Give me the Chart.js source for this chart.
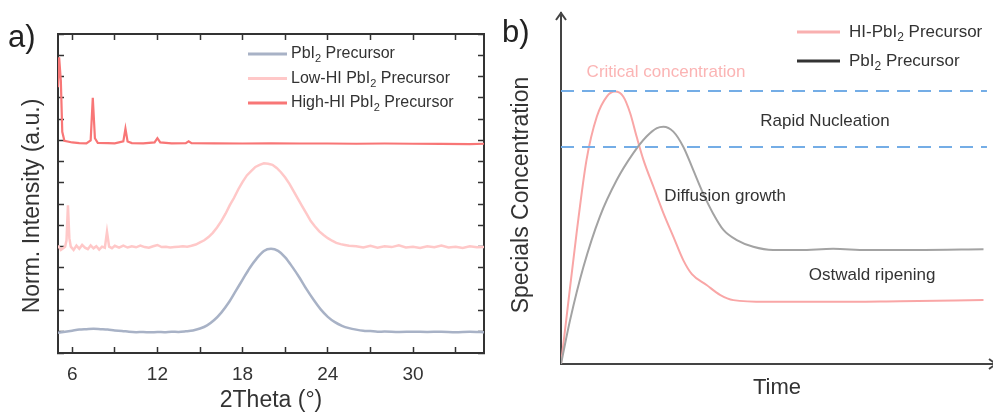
<!DOCTYPE html>
<html>
<head>
<meta charset="utf-8">
<script src="https://cdn.jsdelivr.net/npm/chart.js@4.4.0/dist/chart.umd.min.js"></script>
<style>
  body { margin: 0; background: #fff; }
  #wrap { position: relative; width: 993px; height: 414px; }
  canvas { position: absolute; top: 0; }
  #xrd { left: 0; }
  #growth { left: 500px; }
</style>
</head>
<body>
<div id="wrap">
  <canvas id="xrd" width="500" height="414"></canvas>
  <canvas id="growth" width="493" height="414"></canvas>
</div>
<script>
const FONT = "'Liberation Sans', Arial, sans-serif";

// ---- panel a: XRD patterns, [2theta, stacked norm. intensity]
const pbi2Xrd = [
  [5.0, 0.95], [5.5, 1.0], [6.0, 1.05], [6.5, 1.1], [7.0, 1.12], [7.5, 1.14], [8.0, 1.12],
  [8.5, 1.1], [9.0, 1.06], [9.5, 1.04], [10.0, 1.0], [10.5, 0.98], [11.0, 0.99], [11.5, 0.97],
  [12.0, 0.99], [12.5, 0.98], [13.0, 1.0], [13.5, 0.99], [14.0, 1.02], [14.5, 1.06], [15.0, 1.15],
  [15.5, 1.3], [16.0, 1.55], [16.5, 1.9], [17.0, 2.35], [17.5, 2.9], [18.0, 3.45], [18.5, 4.0],
  [19.0, 4.45], [19.5, 4.8], [20.0, 4.9], [20.5, 4.8], [21.0, 4.5], [21.5, 4.05], [22.0, 3.55],
  [22.5, 3.0], [23.0, 2.5], [23.5, 2.05], [24.0, 1.7], [24.5, 1.45], [25.0, 1.28], [25.5, 1.17],
  [26.0, 1.1], [26.5, 1.05], [27.0, 1.03], [27.5, 1.0], [28.0, 1.01], [29.0, 0.99], [30.0, 1.0],
  [31.0, 0.99], [32.0, 1.0], [33.0, 0.98], [34.0, 1.0], [35.0, 0.98]
];
const lowHiXrd = [
  [5.0, 5.05], [5.2, 4.85], [5.5, 5.0], [5.6, 5.3], [5.7, 6.95], [5.8, 5.4], [5.9, 5.0],
  [6.1, 4.85], [6.3, 5.05], [6.5, 4.9], [6.7, 5.08], [6.9, 4.95], [7.1, 4.88], [7.3, 5.06],
  [7.5, 4.92], [7.7, 5.02], [7.9, 4.86], [8.1, 5.0], [8.3, 4.95], [8.45, 5.7], [8.6, 5.0],
  [8.8, 4.93], [9.0, 5.04], [9.3, 4.95], [9.6, 5.05], [9.9, 4.96], [10.2, 5.02], [10.5, 4.97],
  [10.8, 5.05], [11.1, 4.98], [11.4, 4.95], [11.7, 5.02], [12.0, 5.08], [12.3, 4.98], [12.6, 5.0],
  [12.9, 4.96], [13.2, 4.98], [13.5, 5.0], [13.8, 5.02], [14.1, 5.0], [14.4, 5.04], [14.7, 5.1],
  [15.0, 5.2], [15.3, 5.3], [15.6, 5.45], [15.9, 5.65], [16.2, 5.9], [16.5, 6.2], [16.8, 6.55],
  [17.1, 6.95], [17.4, 7.3], [17.7, 7.7], [18.0, 8.05], [18.3, 8.35], [18.6, 8.55], [18.9, 8.75],
  [19.2, 8.85], [19.5, 8.92], [19.8, 8.9], [20.1, 8.85], [20.4, 8.7], [20.7, 8.5], [21.0, 8.25],
  [21.3, 7.95], [21.6, 7.6], [21.9, 7.25], [22.2, 6.9], [22.5, 6.55], [22.8, 6.2], [23.1, 5.95],
  [23.4, 5.72], [23.7, 5.55], [24.0, 5.4], [24.3, 5.28], [24.6, 5.18], [24.9, 5.12], [25.2, 5.08],
  [25.5, 5.04], [26.0, 5.02], [26.5, 4.96], [27.0, 5.04], [27.5, 4.95], [28.0, 5.02], [28.5, 4.98],
  [29.0, 5.06], [29.5, 4.96], [30.0, 5.0], [30.5, 4.94], [31.0, 5.02], [31.5, 4.97], [32.0, 5.05],
  [32.5, 4.96], [33.0, 5.0], [33.5, 4.94], [34.0, 5.02], [34.5, 4.97], [35.0, 4.98]
];
const highHiXrd = [
  [5.0, 12.5], [5.08, 13.9], [5.2, 12.8], [5.3, 10.4], [5.45, 9.98], [6.0, 9.9], [6.5, 9.87],
  [7.0, 9.86], [7.3, 10.0], [7.45, 12.0], [7.6, 10.1], [7.8, 9.88], [8.5, 9.87], [9.0, 9.86],
  [9.6, 9.95], [9.75, 10.55], [9.9, 9.95], [10.2, 9.87], [11.0, 9.86], [11.8, 9.9], [12.0, 10.1],
  [12.2, 9.9], [13.0, 9.86], [14.0, 9.87], [14.2, 9.95], [14.4, 9.87], [16.0, 9.86], [18.0, 9.85],
  [20.0, 9.86], [22.0, 9.85], [24.0, 9.85], [26.0, 9.84], [28.0, 9.85], [30.0, 9.84], [32.0, 9.83],
  [34.0, 9.82], [35.0, 9.84]
];
const xrdTicks = [6, 9, 12, 15, 18, 21, 24, 27, 30, 33];
const xrdLabels = ['PbI{2} Precursor', 'Low-HI PbI{2} Precursor', 'High-HI PbI{2} Precursor'];

// ---- panel b: schematic concentration vs time, [time, concentration]
const hiCurve = [
  [0, 0], [1.3, 13.5], [3.6, 37.2], [5.9, 58.1], [8.3, 70.5], [10.6, 76.2], [12.5, 77.6],
  [14.4, 76.2], [16.0, 71.5], [17.5, 64.8], [19.1, 58.1], [21.4, 50.5], [23.7, 43.0], [26.0, 36.3],
  [28.3, 29.6], [30.3, 25.6], [33.7, 22.5], [36.8, 19.7], [39.9, 18.2], [47.6, 17.7], [63.0, 17.7],
  [78.5, 17.9], [97.8, 18.2]
];
const pbi2Curve = [
  [0, 0], [2.1, 12.5], [5.2, 27.7], [9.0, 42.0], [12.9, 52.4], [16.7, 60.0], [19.8, 64.8],
  [22.2, 67.2], [23.7, 67.6], [26.0, 66.2], [28.3, 61.9], [30.6, 55.3], [32.9, 48.6], [35.2, 42.9],
  [37.6, 38.2], [40.7, 35.3], [44.5, 33.4], [49.1, 32.5], [55.3, 32.5], [63.0, 32.8], [70.8, 32.5],
  [82.3, 32.5], [97.8, 32.7]
];
const nucleationLevels = [77.8, 61.8];
const growthLabels = ['HI-PbI{2} Precursor', 'PbI{2} Precursor'];
const stageNotes = ['Critical concentration', 'Rapid Nucleation', 'Diffusion growth', 'Ostwald ripening'];

const toXY = arr => arr.map(p => ({ x: p[0], y: p[1] }));

// text with {sub}scripts
function drawRich(ctx, text, x, y, size, color) {
  ctx.save();
  ctx.fillStyle = color;
  ctx.textBaseline = 'middle';
  ctx.textAlign = 'left';
  text.split(/(\{\w+\})/).forEach(part => {
    if (!part) return;
    const sub = part[0] === '{';
    const t = sub ? part.slice(1, -1) : part;
    ctx.font = (sub ? Math.round(size * 0.68) : size) + 'px ' + FONT;
    ctx.fillText(t, x, sub ? y + size * 0.33 : y);
    x += ctx.measureText(t).width;
  });
  ctx.restore();
}

const richLegend = {
  id: 'richLegend',
  afterDraw(chart, args, o) {
    const ctx = chart.ctx;
    o.labels.forEach((lab, i) => {
      const y = o.y + i * o.gap;
      ctx.save();
      ctx.strokeStyle = o.colors[i];
      ctx.lineWidth = 3;
      ctx.beginPath();
      ctx.moveTo(o.x, y);
      ctx.lineTo(o.x + o.len, y);
      ctx.stroke();
      ctx.restore();
      drawRich(ctx, lab, o.x + o.len + o.pad, y, o.size, '#333');
    });
  }
};

// panel tag and rotated side title
const panelText = {
  id: 'panelText',
  afterDraw(chart, args, o) {
    const ctx = chart.ctx;
    ctx.save();
    ctx.font = '31px ' + FONT;
    ctx.fillStyle = '#222';
    ctx.textBaseline = 'middle';
    ctx.fillText(o.tag, o.tagX, o.tagY);
    ctx.translate(o.sideX, o.sideY);
    ctx.rotate(-Math.PI / 2);
    ctx.font = '23px ' + FONT;
    ctx.fillStyle = '#333';
    ctx.textAlign = 'center';
    ctx.fillText(o.side, 0, 0);
    ctx.restore();
  }
};

const stageText = {
  id: 'stageText',
  afterDatasetsDraw(chart, args, o) {
    const { ctx, scales } = chart;
    ctx.save();
    ctx.font = '17px ' + FONT;
    ctx.textAlign = 'center';
    ctx.textBaseline = 'middle';
    o.texts.forEach((t, i) => {
      ctx.fillStyle = i === 0 ? '#fbb4b4' : '#333';
      ctx.fillText(t, scales.x.getPixelForValue(o.at[i][0]), scales.y.getPixelForValue(o.at[i][1]));
    });
    ctx.restore();
  }
};

const axisArrows = {
  id: 'axisArrows',
  afterDraw(chart) {
    const { ctx, chartArea: a } = chart;
    ctx.save();
    ctx.strokeStyle = '#444';
    ctx.lineWidth = 2;
    ctx.beginPath();
    ctx.moveTo(a.left - 5, a.top + 7);
    ctx.lineTo(a.left, a.top);
    ctx.lineTo(a.left + 5, a.top + 7);
    ctx.moveTo(a.right - 4, a.bottom - 5);
    ctx.lineTo(a.right + 3, a.bottom);
    ctx.lineTo(a.right - 4, a.bottom + 5);
    ctx.stroke();
    ctx.restore();
  }
};

const tickGrid = { drawOnChartArea: false, tickLength: -6, tickColor: '#333', tickWidth: 1.5 };
const frame = { color: '#333', width: 2 };

// ---- chart a
new Chart(document.getElementById('xrd'), {
  type: 'line',
  data: {
    datasets: [
      { data: toXY(pbi2Xrd), borderColor: '#a8b2c6', borderWidth: 2.5, tension: 0.3 },
      { data: toXY(lowHiXrd), borderColor: '#ffc8c8', borderWidth: 2.5 },
      { data: toXY(highHiXrd), borderColor: '#f87676', borderWidth: 2.2 }
    ]
  },
  options: {
    responsive: false,
    animation: false,
    events: [],
    layout: { padding: { left: 58, top: 0, right: 0, bottom: 0 } },
    elements: { point: { radius: 0 }, line: { tension: 0 } },
    scales: {
      x: {
        type: 'linear', position: 'bottom', min: 5, max: 35,
        afterBuildTicks: s => { s.ticks = xrdTicks.map(v => ({ value: v })); },
        afterFit: s => { s.height = 61; },
        ticks: {
          callback: v => v % 6 === 0 ? v : '',
          font: { size: 19, family: FONT }, color: '#333', padding: 16, maxRotation: 0, autoSkip: false
        },
        grid: tickGrid,
        border: frame,
        title: { display: true, text: '2Theta (°)', font: { size: 23, family: FONT }, color: '#333', padding: 0 }
      },
      xTop: {
        type: 'linear', position: 'top', min: 5, max: 35,
        afterBuildTicks: s => { s.ticks = xrdTicks.map(v => ({ value: v })); },
        afterFit: s => { s.height = 34; },
        ticks: { display: false },
        grid: tickGrid,
        border: frame
      },
      y: {
        position: 'left', min: 0, max: 15,
        afterFit: s => { s.width = 0; },
        ticks: { display: false, stepSize: 1 },
        grid: tickGrid,
        border: frame
      },
      yRight: {
        position: 'right', min: 0, max: 15,
        afterFit: s => { s.width = 16; },
        ticks: { display: false, stepSize: 1 },
        grid: tickGrid,
        border: frame
      }
    },
    plugins: {
      legend: { display: false },
      tooltip: { enabled: false },
      richLegend: { labels: xrdLabels, colors: ['#a8b2c6', '#ffc8c8', '#f87676'], x: 248, len: 39, pad: 4, y: 54, gap: 24.5, size: 16 },
      panelText: { tag: 'a)', tagX: 8, tagY: 38, side: 'Norm. Intensity (a.u.)', sideX: 33, sideY: 206 }
    }
  },
  plugins: [richLegend, panelText]
});

// ---- chart b
const levelSets = nucleationLevels.map(v => ({
  data: [{ x: 0, y: v }, { x: 98.6, y: v }],
  borderColor: '#74ade6', borderWidth: 2, borderDash: [13, 8], tension: 0
}));

new Chart(document.getElementById('growth'), {
  type: 'line',
  data: {
    datasets: [
      ...levelSets,
      { data: toXY(pbi2Curve), borderColor: '#a3a3a3', borderWidth: 2, cubicInterpolationMode: 'monotone' },
      { data: toXY(hiCurve), borderColor: '#f9a6a6', borderWidth: 2, cubicInterpolationMode: 'monotone' }
    ]
  },
  options: {
    responsive: false,
    animation: false,
    events: [],
    layout: { padding: { left: 61, top: 13, right: 0, bottom: 0 } },
    elements: { point: { radius: 0 } },
    scales: {
      x: {
        type: 'linear', min: 0, max: 100,
        afterFit: s => { s.height = 50; },
        ticks: { display: false },
        grid: { display: false },
        border: { color: '#444', width: 2 },
        title: { display: true, text: 'Time', font: { size: 22, family: FONT }, color: '#333', padding: { top: 0, bottom: 13 } }
      },
      y: {
        min: 0, max: 100,
        afterFit: s => { s.width = 0; },
        ticks: { display: false },
        grid: { display: false },
        border: { color: '#444', width: 2 }
      }
    },
    plugins: {
      legend: { display: false },
      tooltip: { enabled: false },
      richLegend: { labels: growthLabels, colors: ['#f9b0b0', '#333'], x: 297, len: 43, pad: 9, y: 32, gap: 29, size: 17 },
      panelText: { tag: 'b)', tagX: 2, tagY: 33, side: 'Specials Concentration', sideX: 22, sideY: 195 },
      stageText: { texts: stageNotes, at: [[24.3, 83.2], [61.1, 69.2], [38.0, 47.9], [72.0, 25.4]] }
    }
  },
  plugins: [richLegend, panelText, stageText, axisArrows]
});
</script>
</body>
</html>
